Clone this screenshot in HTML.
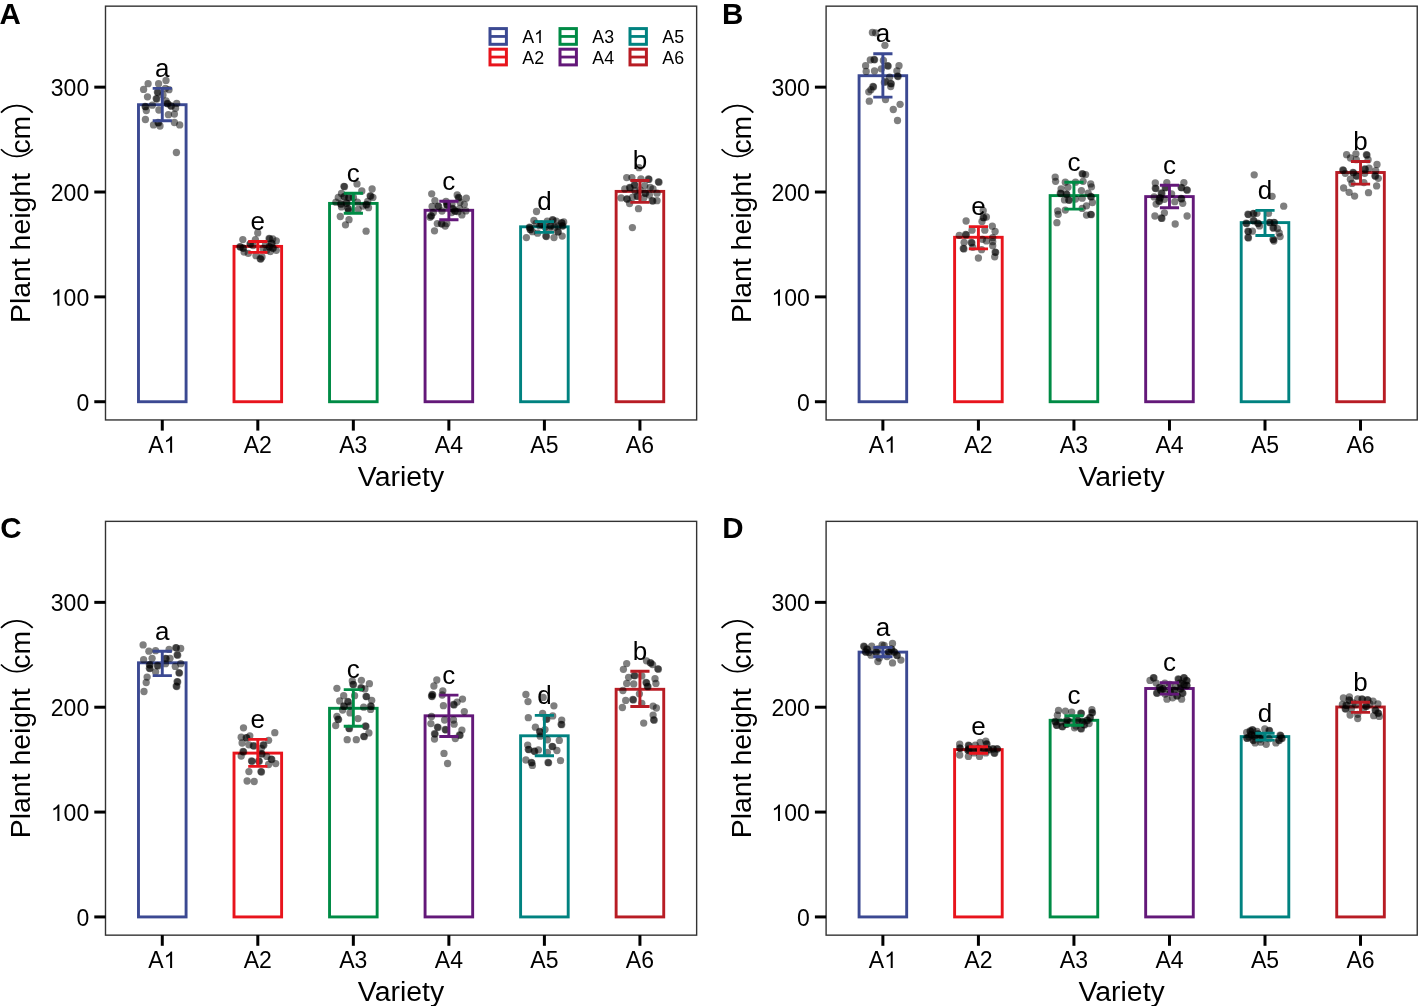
<!DOCTYPE html>
<html><head><meta charset="utf-8"><style>
html,body{margin:0;padding:0;background:#fff;width:1418px;height:1006px;overflow:hidden;}
svg{display:block;will-change:transform;filter:blur(0.35px);}
text{font-family:"Liberation Sans",sans-serif;fill:#000;}
.lab{font-size:29.5px;font-weight:bold;}
.tk{font-size:23px;}
.ti{font-size:28.4px;}
.sl{font-size:26px;}
.lg{font-size:17.8px;}
</style></head><body>
<svg width="1418" height="1006" viewBox="0 0 1418 1006">
<rect width="1418" height="1006" fill="#fff"/>
<g transform="translate(0,0)">
<text transform="translate(-0.5,23.9)" class="lab">A</text>
<rect x="105.5" y="6.16" width="591.14" height="413.79" fill="none" stroke="#333" stroke-width="1.4"/>
<line x1="94.3" x2="105.5" y1="401.73" y2="401.73" stroke="#000" stroke-width="3"/>
<text x="76.41" y="410.63" class="tk">0</text>
<line x1="94.3" x2="105.5" y1="296.87" y2="296.87" stroke="#000" stroke-width="3"/>
<text x="63.62" y="305.77" class="tk">00</text><path d="M59.39,305.77H57.37V292.89Q56.64,293.58 55.45,294.28Q54.26,294.98 53.32,295.33V293.37Q55.01,292.57 56.28,291.44Q57.55,290.31 58.08,289.24H59.39Z"/>
<line x1="94.3" x2="105.5" y1="192.01" y2="192.01" stroke="#000" stroke-width="3"/>
<text x="50.83" y="200.91" class="tk">200</text>
<line x1="94.3" x2="105.5" y1="87.15" y2="87.15" stroke="#000" stroke-width="3"/>
<text x="50.83" y="96.05" class="tk">300</text>
<line x1="162.28" x2="162.28" y1="419.95" y2="430.6" stroke="#000" stroke-width="3"/>
<text x="148.21" y="452.8" class="tk">A</text><path d="M172.12,452.8H170.1V439.92Q169.37,440.61 168.18,441.31Q166.99,442.01 166.05,442.36V440.4Q167.74,439.6 169.01,438.47Q170.28,437.34 170.81,436.27H172.12Z"/>
<line x1="257.81" x2="257.81" y1="419.95" y2="430.6" stroke="#000" stroke-width="3"/>
<text x="243.74" y="452.8" class="tk">A2</text>
<line x1="353.34" x2="353.34" y1="419.95" y2="430.6" stroke="#000" stroke-width="3"/>
<text x="339.27" y="452.8" class="tk">A3</text>
<line x1="448.87" x2="448.87" y1="419.95" y2="430.6" stroke="#000" stroke-width="3"/>
<text x="434.8" y="452.8" class="tk">A4</text>
<line x1="544.4" x2="544.4" y1="419.95" y2="430.6" stroke="#000" stroke-width="3"/>
<text x="530.33" y="452.8" class="tk">A5</text>
<line x1="639.93" x2="639.93" y1="419.95" y2="430.6" stroke="#000" stroke-width="3"/>
<text x="625.86" y="452.8" class="tk">A6</text>
<text x="401" y="485.7" class="ti" text-anchor="middle">Variety</text>
<text transform="translate(30,323) rotate(-90)" class="ti">Plant height</text>
<text transform="translate(30,153.6) rotate(-90)" class="ti">cm</text>
<path d="M1,149.3 A21.2,21.2 0 0 0 32.7,149.3" fill="none" stroke="#000" stroke-width="1.7"/>
<path d="M1,112.6 A21.6,21.6 0 0 1 32.7,112.6" fill="none" stroke="#000" stroke-width="1.7"/>
</g>
<rect x="138.48" y="104.7" width="47.6" height="297.03" fill="none" stroke="#3B4992" stroke-width="2.9"/>
<rect x="234.01" y="246.4" width="47.6" height="155.33" fill="none" stroke="#E8141C" stroke-width="2.9"/>
<rect x="329.54" y="203.4" width="47.6" height="198.33" fill="none" stroke="#008B45" stroke-width="2.9"/>
<rect x="425.07" y="210.3" width="47.6" height="191.43" fill="none" stroke="#631879" stroke-width="2.9"/>
<rect x="520.6" y="226.8" width="47.6" height="174.93" fill="none" stroke="#008280" stroke-width="2.9"/>
<rect x="616.13" y="191.4" width="47.6" height="210.33" fill="none" stroke="#B81C24" stroke-width="2.9"/>
<g fill="#000" fill-opacity="0.5">
<circle cx="166" cy="80.4" r="3.65"/>
<circle cx="148.1" cy="83.7" r="3.65"/>
<circle cx="158.6" cy="83.7" r="3.65"/>
<circle cx="143.6" cy="89.4" r="3.65"/>
<circle cx="169" cy="89.7" r="3.65"/>
<circle cx="157.4" cy="92.1" r="3.65"/>
<circle cx="158" cy="92.5" r="3.65"/>
<circle cx="165.4" cy="88.5" r="3.65"/>
<circle cx="147.5" cy="96.8" r="3.65"/>
<circle cx="156.2" cy="98.6" r="3.65"/>
<circle cx="156.8" cy="99" r="3.65"/>
<circle cx="163" cy="95" r="3.65"/>
<circle cx="166" cy="101" r="3.65"/>
<circle cx="167.2" cy="103.4" r="3.65"/>
<circle cx="167.8" cy="103.8" r="3.65"/>
<circle cx="170.8" cy="105.8" r="3.65"/>
<circle cx="171.4" cy="106.2" r="3.65"/>
<circle cx="176.7" cy="103.4" r="3.65"/>
<circle cx="175.5" cy="108.2" r="3.65"/>
<circle cx="145.1" cy="106.4" r="3.65"/>
<circle cx="145.7" cy="106.8" r="3.65"/>
<circle cx="146.3" cy="110.5" r="3.65"/>
<circle cx="152.3" cy="105.2" r="3.65"/>
<circle cx="158.9" cy="110" r="3.65"/>
<circle cx="168.4" cy="114.7" r="3.65"/>
<circle cx="174.4" cy="114.1" r="3.65"/>
<circle cx="145.4" cy="119.5" r="3.65"/>
<circle cx="153.5" cy="124.9" r="3.65"/>
<circle cx="158" cy="122.5" r="3.65"/>
<circle cx="158.6" cy="122.9" r="3.65"/>
<circle cx="160" cy="126" r="3.65"/>
<circle cx="174.4" cy="122.5" r="3.65"/>
<circle cx="179.7" cy="124.9" r="3.65"/>
<circle cx="176.4" cy="152.5" r="3.65"/>
<circle cx="257.7" cy="232.9" r="3.65"/>
<circle cx="242.8" cy="239.6" r="3.65"/>
<circle cx="255.4" cy="239.6" r="3.65"/>
<circle cx="269.1" cy="238.4" r="3.65"/>
<circle cx="269.7" cy="238.8" r="3.65"/>
<circle cx="272.7" cy="239" r="3.65"/>
<circle cx="276.3" cy="240.8" r="3.65"/>
<circle cx="271.5" cy="243.2" r="3.65"/>
<circle cx="272.1" cy="243.6" r="3.65"/>
<circle cx="269.1" cy="246.7" r="3.65"/>
<circle cx="269.7" cy="247.1" r="3.65"/>
<circle cx="272.7" cy="247.9" r="3.65"/>
<circle cx="273.3" cy="248.3" r="3.65"/>
<circle cx="276.3" cy="250.3" r="3.65"/>
<circle cx="270.3" cy="251.5" r="3.65"/>
<circle cx="266.7" cy="250.3" r="3.65"/>
<circle cx="239.9" cy="246.7" r="3.65"/>
<circle cx="240.5" cy="247.1" r="3.65"/>
<circle cx="242.9" cy="247.9" r="3.65"/>
<circle cx="243.5" cy="248.3" r="3.65"/>
<circle cx="244.1" cy="252.1" r="3.65"/>
<circle cx="248.3" cy="253.3" r="3.65"/>
<circle cx="250" cy="243.8" r="3.65"/>
<circle cx="250.6" cy="244.2" r="3.65"/>
<circle cx="253" cy="245.5" r="3.65"/>
<circle cx="256" cy="255.7" r="3.65"/>
<circle cx="260.2" cy="258.7" r="3.65"/>
<circle cx="260.8" cy="259.1" r="3.65"/>
<circle cx="262" cy="256.9" r="3.65"/>
<circle cx="263.2" cy="248.5" r="3.65"/>
<circle cx="265.5" cy="244.4" r="3.65"/>
<circle cx="343.9" cy="186.3" r="3.65"/>
<circle cx="344.5" cy="186.7" r="3.65"/>
<circle cx="357" cy="183.9" r="3.65"/>
<circle cx="361.8" cy="191" r="3.65"/>
<circle cx="372.1" cy="189" r="3.65"/>
<circle cx="370.1" cy="195.8" r="3.65"/>
<circle cx="370.7" cy="196.2" r="3.65"/>
<circle cx="372.9" cy="197.4" r="3.65"/>
<circle cx="341.5" cy="193.4" r="3.65"/>
<circle cx="338.3" cy="197.4" r="3.65"/>
<circle cx="343.9" cy="196.6" r="3.65"/>
<circle cx="344.5" cy="197" r="3.65"/>
<circle cx="348.6" cy="197.4" r="3.65"/>
<circle cx="349.2" cy="197.8" r="3.65"/>
<circle cx="353.4" cy="197.4" r="3.65"/>
<circle cx="335.9" cy="202.2" r="3.65"/>
<circle cx="340.7" cy="203.8" r="3.65"/>
<circle cx="341.3" cy="204.2" r="3.65"/>
<circle cx="346.3" cy="203" r="3.65"/>
<circle cx="346.9" cy="203.4" r="3.65"/>
<circle cx="341.5" cy="206.9" r="3.65"/>
<circle cx="347.8" cy="208.5" r="3.65"/>
<circle cx="348.4" cy="208.9" r="3.65"/>
<circle cx="348.6" cy="210.9" r="3.65"/>
<circle cx="357.4" cy="202.2" r="3.65"/>
<circle cx="358.2" cy="209.3" r="3.65"/>
<circle cx="363" cy="206.1" r="3.65"/>
<circle cx="366.1" cy="204.5" r="3.65"/>
<circle cx="366.7" cy="204.9" r="3.65"/>
<circle cx="368.5" cy="207.7" r="3.65"/>
<circle cx="367.7" cy="201.4" r="3.65"/>
<circle cx="340.3" cy="216.5" r="3.65"/>
<circle cx="349" cy="219.7" r="3.65"/>
<circle cx="345.5" cy="224.8" r="3.65"/>
<circle cx="366.1" cy="231.2" r="3.65"/>
<circle cx="431.7" cy="193.8" r="3.65"/>
<circle cx="434.9" cy="200.6" r="3.65"/>
<circle cx="438.1" cy="206.1" r="3.65"/>
<circle cx="438.7" cy="206.5" r="3.65"/>
<circle cx="432.1" cy="206.5" r="3.65"/>
<circle cx="430.9" cy="215.7" r="3.65"/>
<circle cx="431.5" cy="216.1" r="3.65"/>
<circle cx="433.3" cy="212.5" r="3.65"/>
<circle cx="430.1" cy="217.3" r="3.65"/>
<circle cx="437.3" cy="223.6" r="3.65"/>
<circle cx="441.3" cy="223.6" r="3.65"/>
<circle cx="441.9" cy="224" r="3.65"/>
<circle cx="445.2" cy="226" r="3.65"/>
<circle cx="446.8" cy="223.6" r="3.65"/>
<circle cx="434.5" cy="230.8" r="3.65"/>
<circle cx="446" cy="201.4" r="3.65"/>
<circle cx="446.8" cy="204.5" r="3.65"/>
<circle cx="457.2" cy="195" r="3.65"/>
<circle cx="458.4" cy="197.4" r="3.65"/>
<circle cx="459" cy="197.8" r="3.65"/>
<circle cx="466.3" cy="198.2" r="3.65"/>
<circle cx="464.3" cy="204.5" r="3.65"/>
<circle cx="452.4" cy="208.5" r="3.65"/>
<circle cx="453" cy="208.9" r="3.65"/>
<circle cx="454.8" cy="210.9" r="3.65"/>
<circle cx="455.4" cy="211.3" r="3.65"/>
<circle cx="459.6" cy="208.5" r="3.65"/>
<circle cx="461.9" cy="214.9" r="3.65"/>
<circle cx="465.9" cy="210.9" r="3.65"/>
<circle cx="451.6" cy="212.5" r="3.65"/>
<circle cx="458" cy="211.7" r="3.65"/>
<circle cx="447" cy="205" r="3.65"/>
<circle cx="447.6" cy="205.4" r="3.65"/>
<circle cx="442" cy="211" r="3.65"/>
<circle cx="452" cy="204" r="3.65"/>
<circle cx="460" cy="202" r="3.65"/>
<circle cx="536.5" cy="211.5" r="3.65"/>
<circle cx="533.9" cy="220.5" r="3.65"/>
<circle cx="526.4" cy="237.6" r="3.65"/>
<circle cx="530.1" cy="229.4" r="3.65"/>
<circle cx="530.7" cy="229.8" r="3.65"/>
<circle cx="532.4" cy="231.7" r="3.65"/>
<circle cx="537.6" cy="233.2" r="3.65"/>
<circle cx="545.8" cy="236.1" r="3.65"/>
<circle cx="546.4" cy="236.5" r="3.65"/>
<circle cx="554" cy="237.6" r="3.65"/>
<circle cx="562.2" cy="236.1" r="3.65"/>
<circle cx="557.7" cy="231.7" r="3.65"/>
<circle cx="558.3" cy="232.1" r="3.65"/>
<circle cx="552.5" cy="219.7" r="3.65"/>
<circle cx="553.1" cy="220.1" r="3.65"/>
<circle cx="561.5" cy="222.7" r="3.65"/>
<circle cx="562.1" cy="223.1" r="3.65"/>
<circle cx="562.2" cy="225.7" r="3.65"/>
<circle cx="562.8" cy="226.1" r="3.65"/>
<circle cx="563.7" cy="222" r="3.65"/>
<circle cx="550.3" cy="225.7" r="3.65"/>
<circle cx="550.9" cy="226.1" r="3.65"/>
<circle cx="554.7" cy="227.2" r="3.65"/>
<circle cx="539.8" cy="225.7" r="3.65"/>
<circle cx="536.1" cy="223.5" r="3.65"/>
<circle cx="529.4" cy="227.2" r="3.65"/>
<circle cx="530" cy="227.6" r="3.65"/>
<circle cx="556.2" cy="221.2" r="3.65"/>
<circle cx="547.3" cy="221.2" r="3.65"/>
<circle cx="541" cy="224" r="3.65"/>
<circle cx="541.6" cy="224.4" r="3.65"/>
<circle cx="545" cy="227" r="3.65"/>
<circle cx="549" cy="230" r="3.65"/>
<circle cx="558" cy="226" r="3.65"/>
<circle cx="639" cy="167.7" r="3.65"/>
<circle cx="626.7" cy="177.6" r="3.65"/>
<circle cx="631.9" cy="177.6" r="3.65"/>
<circle cx="640.9" cy="179" r="3.65"/>
<circle cx="648.4" cy="179" r="3.65"/>
<circle cx="649" cy="179.4" r="3.65"/>
<circle cx="658.4" cy="181.8" r="3.65"/>
<circle cx="659" cy="182.2" r="3.65"/>
<circle cx="624.8" cy="188.9" r="3.65"/>
<circle cx="629.6" cy="187.5" r="3.65"/>
<circle cx="630.2" cy="187.9" r="3.65"/>
<circle cx="634.3" cy="184.7" r="3.65"/>
<circle cx="634.9" cy="185.1" r="3.65"/>
<circle cx="644.7" cy="185.6" r="3.65"/>
<circle cx="650.3" cy="187.5" r="3.65"/>
<circle cx="621.1" cy="197.9" r="3.65"/>
<circle cx="626.7" cy="198.8" r="3.65"/>
<circle cx="627.3" cy="199.2" r="3.65"/>
<circle cx="632.4" cy="197.4" r="3.65"/>
<circle cx="637.1" cy="196" r="3.65"/>
<circle cx="637.7" cy="196.4" r="3.65"/>
<circle cx="629.6" cy="203.5" r="3.65"/>
<circle cx="638.5" cy="208.7" r="3.65"/>
<circle cx="649.4" cy="195" r="3.65"/>
<circle cx="652.2" cy="200.7" r="3.65"/>
<circle cx="652.8" cy="201.1" r="3.65"/>
<circle cx="657" cy="200.7" r="3.65"/>
<circle cx="657" cy="193.2" r="3.65"/>
<circle cx="643.7" cy="197.9" r="3.65"/>
<circle cx="632.4" cy="227.6" r="3.65"/>
<circle cx="640" cy="190" r="3.65"/>
<circle cx="645" cy="193" r="3.65"/>
<circle cx="645.6" cy="193.4" r="3.65"/>
<circle cx="635" cy="191" r="3.65"/>
<circle cx="653" cy="189" r="3.65"/>
</g>
<path d="M152.68,88.4H171.88M162.28,88.4V120.7M152.68,120.7H171.88" fill="none" stroke="#3B4992" stroke-width="2.9"/>
<text x="162.28" y="77" class="sl" text-anchor="middle">a</text>
<path d="M248.21,241.5H267.41M257.81,241.5V252.4M248.21,252.4H267.41" fill="none" stroke="#E8141C" stroke-width="2.9"/>
<text x="257.81" y="230.1" class="sl" text-anchor="middle">e</text>
<path d="M343.74,193.3H362.94M353.34,193.3V213.3M343.74,213.3H362.94" fill="none" stroke="#008B45" stroke-width="2.9"/>
<text x="353.34" y="181.9" class="sl" text-anchor="middle">c</text>
<path d="M439.27,201.2H458.47M448.87,201.2V219.8M439.27,219.8H458.47" fill="none" stroke="#631879" stroke-width="2.9"/>
<text x="448.87" y="189.8" class="sl" text-anchor="middle">c</text>
<path d="M534.8,221.6H554M544.4,221.6V232.4M534.8,232.4H554" fill="none" stroke="#008280" stroke-width="2.9"/>
<text x="544.4" y="210.2" class="sl" text-anchor="middle">d</text>
<path d="M630.33,180.5H649.53M639.93,180.5V202.4M630.33,202.4H649.53" fill="none" stroke="#B81C24" stroke-width="2.9"/>
<text x="639.93" y="169.1" class="sl" text-anchor="middle">b</text>
<g transform="translate(720.6,0)">
<text transform="translate(1.4,23.9)" class="lab">B</text>
<rect x="105.5" y="6.16" width="591.14" height="413.79" fill="none" stroke="#333" stroke-width="1.4"/>
<line x1="94.3" x2="105.5" y1="401.73" y2="401.73" stroke="#000" stroke-width="3"/>
<text x="76.41" y="410.63" class="tk">0</text>
<line x1="94.3" x2="105.5" y1="296.87" y2="296.87" stroke="#000" stroke-width="3"/>
<text x="63.62" y="305.77" class="tk">00</text><path d="M59.39,305.77H57.37V292.89Q56.64,293.58 55.45,294.28Q54.26,294.98 53.32,295.33V293.37Q55.01,292.57 56.28,291.44Q57.55,290.31 58.08,289.24H59.39Z"/>
<line x1="94.3" x2="105.5" y1="192.01" y2="192.01" stroke="#000" stroke-width="3"/>
<text x="50.83" y="200.91" class="tk">200</text>
<line x1="94.3" x2="105.5" y1="87.15" y2="87.15" stroke="#000" stroke-width="3"/>
<text x="50.83" y="96.05" class="tk">300</text>
<line x1="162.28" x2="162.28" y1="419.95" y2="430.6" stroke="#000" stroke-width="3"/>
<text x="148.21" y="452.8" class="tk">A</text><path d="M172.12,452.8H170.1V439.92Q169.37,440.61 168.18,441.31Q166.99,442.01 166.05,442.36V440.4Q167.74,439.6 169.01,438.47Q170.28,437.34 170.81,436.27H172.12Z"/>
<line x1="257.81" x2="257.81" y1="419.95" y2="430.6" stroke="#000" stroke-width="3"/>
<text x="243.74" y="452.8" class="tk">A2</text>
<line x1="353.34" x2="353.34" y1="419.95" y2="430.6" stroke="#000" stroke-width="3"/>
<text x="339.27" y="452.8" class="tk">A3</text>
<line x1="448.87" x2="448.87" y1="419.95" y2="430.6" stroke="#000" stroke-width="3"/>
<text x="434.8" y="452.8" class="tk">A4</text>
<line x1="544.4" x2="544.4" y1="419.95" y2="430.6" stroke="#000" stroke-width="3"/>
<text x="530.33" y="452.8" class="tk">A5</text>
<line x1="639.93" x2="639.93" y1="419.95" y2="430.6" stroke="#000" stroke-width="3"/>
<text x="625.86" y="452.8" class="tk">A6</text>
<text x="401" y="485.7" class="ti" text-anchor="middle">Variety</text>
<text transform="translate(30,323) rotate(-90)" class="ti">Plant height</text>
<text transform="translate(30,153.6) rotate(-90)" class="ti">cm</text>
<path d="M1,149.3 A21.2,21.2 0 0 0 32.7,149.3" fill="none" stroke="#000" stroke-width="1.7"/>
<path d="M1,112.6 A21.6,21.6 0 0 1 32.7,112.6" fill="none" stroke="#000" stroke-width="1.7"/>
</g>
<rect x="859.08" y="75.7" width="47.6" height="326.03" fill="none" stroke="#3B4992" stroke-width="2.9"/>
<rect x="954.61" y="237.3" width="47.6" height="164.43" fill="none" stroke="#E8141C" stroke-width="2.9"/>
<rect x="1050.14" y="195.6" width="47.6" height="206.13" fill="none" stroke="#008B45" stroke-width="2.9"/>
<rect x="1145.67" y="196.6" width="47.6" height="205.13" fill="none" stroke="#631879" stroke-width="2.9"/>
<rect x="1241.2" y="222.6" width="47.6" height="179.13" fill="none" stroke="#008280" stroke-width="2.9"/>
<rect x="1336.73" y="172.5" width="47.6" height="229.23" fill="none" stroke="#B81C24" stroke-width="2.9"/>
<g fill="#000" fill-opacity="0.5">
<circle cx="872.4" cy="32.5" r="3.65"/>
<circle cx="875.6" cy="32.8" r="3.65"/>
<circle cx="884.9" cy="45.3" r="3.65"/>
<circle cx="870.3" cy="59.9" r="3.65"/>
<circle cx="874" cy="59.4" r="3.65"/>
<circle cx="874.6" cy="59.8" r="3.65"/>
<circle cx="865.6" cy="65.7" r="3.65"/>
<circle cx="866.2" cy="71.4" r="3.65"/>
<circle cx="874.5" cy="70.9" r="3.65"/>
<circle cx="881.3" cy="68.8" r="3.65"/>
<circle cx="883.4" cy="60.5" r="3.65"/>
<circle cx="887.6" cy="65.7" r="3.65"/>
<circle cx="888.2" cy="66.1" r="3.65"/>
<circle cx="899" cy="65.7" r="3.65"/>
<circle cx="896.9" cy="70.9" r="3.65"/>
<circle cx="897.5" cy="76.1" r="3.65"/>
<circle cx="898.1" cy="76.5" r="3.65"/>
<circle cx="889.6" cy="77.2" r="3.65"/>
<circle cx="890.7" cy="83.4" r="3.65"/>
<circle cx="891.3" cy="83.8" r="3.65"/>
<circle cx="884.4" cy="82.4" r="3.65"/>
<circle cx="890.7" cy="86.5" r="3.65"/>
<circle cx="872.9" cy="86.5" r="3.65"/>
<circle cx="873.5" cy="86.9" r="3.65"/>
<circle cx="868.8" cy="91.8" r="3.65"/>
<circle cx="870.9" cy="89.7" r="3.65"/>
<circle cx="869.3" cy="101.2" r="3.65"/>
<circle cx="885.5" cy="99.6" r="3.65"/>
<circle cx="900.1" cy="104.3" r="3.65"/>
<circle cx="893.3" cy="109.5" r="3.65"/>
<circle cx="897.5" cy="120.5" r="3.65"/>
<circle cx="885.5" cy="81.3" r="3.65"/>
<circle cx="983.2" cy="210.7" r="3.65"/>
<circle cx="986.4" cy="217" r="3.65"/>
<circle cx="983.2" cy="217.4" r="3.65"/>
<circle cx="983.8" cy="217.8" r="3.65"/>
<circle cx="982" cy="221.4" r="3.65"/>
<circle cx="966.1" cy="221" r="3.65"/>
<circle cx="992.3" cy="226.2" r="3.65"/>
<circle cx="995.1" cy="231.4" r="3.65"/>
<circle cx="984.8" cy="230.2" r="3.65"/>
<circle cx="972" cy="230.2" r="3.65"/>
<circle cx="959.3" cy="235.3" r="3.65"/>
<circle cx="965.7" cy="234.5" r="3.65"/>
<circle cx="966.3" cy="234.9" r="3.65"/>
<circle cx="964.1" cy="242.5" r="3.65"/>
<circle cx="971.3" cy="242.5" r="3.65"/>
<circle cx="971.9" cy="242.9" r="3.65"/>
<circle cx="963.3" cy="248.5" r="3.65"/>
<circle cx="963.9" cy="248.9" r="3.65"/>
<circle cx="982.4" cy="239.3" r="3.65"/>
<circle cx="986.4" cy="240.9" r="3.65"/>
<circle cx="992.7" cy="241.7" r="3.65"/>
<circle cx="992.7" cy="237.7" r="3.65"/>
<circle cx="972.8" cy="247.3" r="3.65"/>
<circle cx="981.6" cy="249.7" r="3.65"/>
<circle cx="995.1" cy="252.1" r="3.65"/>
<circle cx="995.7" cy="252.5" r="3.65"/>
<circle cx="994.7" cy="256.8" r="3.65"/>
<circle cx="978.4" cy="258" r="3.65"/>
<circle cx="992.7" cy="245.7" r="3.65"/>
<circle cx="1055.2" cy="177.1" r="3.65"/>
<circle cx="1055.6" cy="181.3" r="3.65"/>
<circle cx="1082.2" cy="173.7" r="3.65"/>
<circle cx="1082.8" cy="174.1" r="3.65"/>
<circle cx="1085.6" cy="174.6" r="3.65"/>
<circle cx="1065.3" cy="182.2" r="3.65"/>
<circle cx="1075.5" cy="182.2" r="3.65"/>
<circle cx="1083.1" cy="181.3" r="3.65"/>
<circle cx="1090.7" cy="183.9" r="3.65"/>
<circle cx="1091.5" cy="186.8" r="3.65"/>
<circle cx="1061.1" cy="188.9" r="3.65"/>
<circle cx="1067.9" cy="187.2" r="3.65"/>
<circle cx="1060.3" cy="193.2" r="3.65"/>
<circle cx="1060.9" cy="193.6" r="3.65"/>
<circle cx="1066.2" cy="194" r="3.65"/>
<circle cx="1066.8" cy="194.4" r="3.65"/>
<circle cx="1081.4" cy="190.6" r="3.65"/>
<circle cx="1088.2" cy="193.2" r="3.65"/>
<circle cx="1090.7" cy="196.5" r="3.65"/>
<circle cx="1091.3" cy="196.9" r="3.65"/>
<circle cx="1064.5" cy="199.9" r="3.65"/>
<circle cx="1068.7" cy="199.9" r="3.65"/>
<circle cx="1069.3" cy="200.3" r="3.65"/>
<circle cx="1075.5" cy="199.1" r="3.65"/>
<circle cx="1082.2" cy="198.2" r="3.65"/>
<circle cx="1092.4" cy="202.5" r="3.65"/>
<circle cx="1086.5" cy="205.8" r="3.65"/>
<circle cx="1082.2" cy="208.4" r="3.65"/>
<circle cx="1065.3" cy="210.1" r="3.65"/>
<circle cx="1057.7" cy="210.9" r="3.65"/>
<circle cx="1058.2" cy="214.3" r="3.65"/>
<circle cx="1086.5" cy="215.1" r="3.65"/>
<circle cx="1090.7" cy="214.3" r="3.65"/>
<circle cx="1091.3" cy="214.7" r="3.65"/>
<circle cx="1056.9" cy="222.7" r="3.65"/>
<circle cx="1155.3" cy="183" r="3.65"/>
<circle cx="1166.8" cy="182.6" r="3.65"/>
<circle cx="1183.9" cy="182.6" r="3.65"/>
<circle cx="1155.3" cy="188.2" r="3.65"/>
<circle cx="1155.9" cy="188.6" r="3.65"/>
<circle cx="1165.2" cy="187.4" r="3.65"/>
<circle cx="1165.8" cy="187.8" r="3.65"/>
<circle cx="1181.1" cy="187.4" r="3.65"/>
<circle cx="1181.7" cy="187.8" r="3.65"/>
<circle cx="1186.7" cy="189.8" r="3.65"/>
<circle cx="1187.3" cy="190.2" r="3.65"/>
<circle cx="1161.3" cy="193" r="3.65"/>
<circle cx="1161.9" cy="193.4" r="3.65"/>
<circle cx="1171.6" cy="193.8" r="3.65"/>
<circle cx="1154.1" cy="196.9" r="3.65"/>
<circle cx="1159.7" cy="197.7" r="3.65"/>
<circle cx="1160.3" cy="198.1" r="3.65"/>
<circle cx="1164.4" cy="199.3" r="3.65"/>
<circle cx="1174.8" cy="201.7" r="3.65"/>
<circle cx="1181.1" cy="198.5" r="3.65"/>
<circle cx="1181.7" cy="198.9" r="3.65"/>
<circle cx="1182.7" cy="203.3" r="3.65"/>
<circle cx="1156.1" cy="204.1" r="3.65"/>
<circle cx="1158.9" cy="200.9" r="3.65"/>
<circle cx="1159.5" cy="201.3" r="3.65"/>
<circle cx="1164.4" cy="212.8" r="3.65"/>
<circle cx="1154.9" cy="216" r="3.65"/>
<circle cx="1161.3" cy="218" r="3.65"/>
<circle cx="1161.9" cy="218.4" r="3.65"/>
<circle cx="1187.1" cy="216" r="3.65"/>
<circle cx="1175.2" cy="224" r="3.65"/>
<circle cx="1254.2" cy="174.8" r="3.65"/>
<circle cx="1272.1" cy="196.3" r="3.65"/>
<circle cx="1283.7" cy="206.2" r="3.65"/>
<circle cx="1247.9" cy="214.2" r="3.65"/>
<circle cx="1248.5" cy="214.6" r="3.65"/>
<circle cx="1253.3" cy="213.3" r="3.65"/>
<circle cx="1253.9" cy="213.7" r="3.65"/>
<circle cx="1256.9" cy="213.3" r="3.65"/>
<circle cx="1268.5" cy="213.3" r="3.65"/>
<circle cx="1246.1" cy="223.2" r="3.65"/>
<circle cx="1246.7" cy="223.6" r="3.65"/>
<circle cx="1253.3" cy="220.5" r="3.65"/>
<circle cx="1253.9" cy="220.9" r="3.65"/>
<circle cx="1257.8" cy="223.2" r="3.65"/>
<circle cx="1258.4" cy="223.6" r="3.65"/>
<circle cx="1259.5" cy="225.9" r="3.65"/>
<circle cx="1269.4" cy="222.3" r="3.65"/>
<circle cx="1270" cy="222.7" r="3.65"/>
<circle cx="1273.9" cy="222.3" r="3.65"/>
<circle cx="1274.5" cy="222.7" r="3.65"/>
<circle cx="1273" cy="227.7" r="3.65"/>
<circle cx="1273.6" cy="228.1" r="3.65"/>
<circle cx="1277.4" cy="228.6" r="3.65"/>
<circle cx="1247.9" cy="231.2" r="3.65"/>
<circle cx="1248.5" cy="231.6" r="3.65"/>
<circle cx="1252.4" cy="231.2" r="3.65"/>
<circle cx="1247.9" cy="237.5" r="3.65"/>
<circle cx="1248.5" cy="237.9" r="3.65"/>
<circle cx="1279.2" cy="233" r="3.65"/>
<circle cx="1280.1" cy="236.6" r="3.65"/>
<circle cx="1273" cy="239.3" r="3.65"/>
<circle cx="1273.6" cy="239.7" r="3.65"/>
<circle cx="1273.9" cy="241.1" r="3.65"/>
<circle cx="1346.6" cy="154.7" r="3.65"/>
<circle cx="1355.9" cy="153.8" r="3.65"/>
<circle cx="1366.4" cy="154.7" r="3.65"/>
<circle cx="1367" cy="155.1" r="3.65"/>
<circle cx="1350.4" cy="158" r="3.65"/>
<circle cx="1368.1" cy="159.7" r="3.65"/>
<circle cx="1356.3" cy="159.7" r="3.65"/>
<circle cx="1377" cy="164.4" r="3.65"/>
<circle cx="1342.8" cy="169.9" r="3.65"/>
<circle cx="1343.4" cy="170.3" r="3.65"/>
<circle cx="1345.3" cy="173.3" r="3.65"/>
<circle cx="1352.9" cy="172.4" r="3.65"/>
<circle cx="1353.5" cy="172.8" r="3.65"/>
<circle cx="1356.3" cy="175.8" r="3.65"/>
<circle cx="1356.9" cy="176.2" r="3.65"/>
<circle cx="1364.7" cy="169" r="3.65"/>
<circle cx="1365.3" cy="169.4" r="3.65"/>
<circle cx="1369" cy="168.2" r="3.65"/>
<circle cx="1375.7" cy="170.7" r="3.65"/>
<circle cx="1374.9" cy="175.8" r="3.65"/>
<circle cx="1375.5" cy="176.2" r="3.65"/>
<circle cx="1378.3" cy="178.3" r="3.65"/>
<circle cx="1350.4" cy="179.2" r="3.65"/>
<circle cx="1352" cy="183.4" r="3.65"/>
<circle cx="1363.9" cy="182.6" r="3.65"/>
<circle cx="1376.6" cy="185.9" r="3.65"/>
<circle cx="1343.6" cy="188" r="3.65"/>
<circle cx="1349.1" cy="192.3" r="3.65"/>
<circle cx="1354.6" cy="196.1" r="3.65"/>
<circle cx="1368.5" cy="192.7" r="3.65"/>
<circle cx="1364.7" cy="173.3" r="3.65"/>
</g>
<path d="M873.28,53.7H892.48M882.88,53.7V97.1M873.28,97.1H892.48" fill="none" stroke="#3B4992" stroke-width="2.9"/>
<text x="882.88" y="42.3" class="sl" text-anchor="middle">a</text>
<path d="M968.81,226.6H988.01M978.41,226.6V248.9M968.81,248.9H988.01" fill="none" stroke="#E8141C" stroke-width="2.9"/>
<text x="978.41" y="215.2" class="sl" text-anchor="middle">e</text>
<path d="M1064.34,182.2H1083.54M1073.94,182.2V209.1M1064.34,209.1H1083.54" fill="none" stroke="#008B45" stroke-width="2.9"/>
<text x="1073.94" y="170.8" class="sl" text-anchor="middle">c</text>
<path d="M1159.87,185.3H1179.07M1169.47,185.3V207.7M1159.87,207.7H1179.07" fill="none" stroke="#631879" stroke-width="2.9"/>
<text x="1169.47" y="173.9" class="sl" text-anchor="middle">c</text>
<path d="M1255.4,210.4H1274.6M1265,210.4V235.5M1255.4,235.5H1274.6" fill="none" stroke="#008280" stroke-width="2.9"/>
<text x="1265" y="199" class="sl" text-anchor="middle">d</text>
<path d="M1350.93,161.5H1370.13M1360.53,161.5V184.1M1350.93,184.1H1370.13" fill="none" stroke="#B81C24" stroke-width="2.9"/>
<text x="1360.53" y="150.1" class="sl" text-anchor="middle">b</text>
<g transform="translate(0,515.2)">
<text transform="translate(0.24,22.8)" class="lab">C</text>
<rect x="105.5" y="6.16" width="591.14" height="413.79" fill="none" stroke="#333" stroke-width="1.4"/>
<line x1="94.3" x2="105.5" y1="401.73" y2="401.73" stroke="#000" stroke-width="3"/>
<text x="76.41" y="410.63" class="tk">0</text>
<line x1="94.3" x2="105.5" y1="296.87" y2="296.87" stroke="#000" stroke-width="3"/>
<text x="63.62" y="305.77" class="tk">00</text><path d="M59.39,305.77H57.37V292.89Q56.64,293.58 55.45,294.28Q54.26,294.98 53.32,295.33V293.37Q55.01,292.57 56.28,291.44Q57.55,290.31 58.08,289.24H59.39Z"/>
<line x1="94.3" x2="105.5" y1="192.01" y2="192.01" stroke="#000" stroke-width="3"/>
<text x="50.83" y="200.91" class="tk">200</text>
<line x1="94.3" x2="105.5" y1="87.15" y2="87.15" stroke="#000" stroke-width="3"/>
<text x="50.83" y="96.05" class="tk">300</text>
<line x1="162.28" x2="162.28" y1="419.95" y2="430.6" stroke="#000" stroke-width="3"/>
<text x="148.21" y="452.8" class="tk">A</text><path d="M172.12,452.8H170.1V439.92Q169.37,440.61 168.18,441.31Q166.99,442.01 166.05,442.36V440.4Q167.74,439.6 169.01,438.47Q170.28,437.34 170.81,436.27H172.12Z"/>
<line x1="257.81" x2="257.81" y1="419.95" y2="430.6" stroke="#000" stroke-width="3"/>
<text x="243.74" y="452.8" class="tk">A2</text>
<line x1="353.34" x2="353.34" y1="419.95" y2="430.6" stroke="#000" stroke-width="3"/>
<text x="339.27" y="452.8" class="tk">A3</text>
<line x1="448.87" x2="448.87" y1="419.95" y2="430.6" stroke="#000" stroke-width="3"/>
<text x="434.8" y="452.8" class="tk">A4</text>
<line x1="544.4" x2="544.4" y1="419.95" y2="430.6" stroke="#000" stroke-width="3"/>
<text x="530.33" y="452.8" class="tk">A5</text>
<line x1="639.93" x2="639.93" y1="419.95" y2="430.6" stroke="#000" stroke-width="3"/>
<text x="625.86" y="452.8" class="tk">A6</text>
<text x="401" y="485.7" class="ti" text-anchor="middle">Variety</text>
<text transform="translate(30,323) rotate(-90)" class="ti">Plant height</text>
<text transform="translate(30,153.6) rotate(-90)" class="ti">cm</text>
<path d="M1,149.3 A21.2,21.2 0 0 0 32.7,149.3" fill="none" stroke="#000" stroke-width="1.7"/>
<path d="M1,112.6 A21.6,21.6 0 0 1 32.7,112.6" fill="none" stroke="#000" stroke-width="1.7"/>
</g>
<rect x="138.48" y="662.8" width="47.6" height="254.13" fill="none" stroke="#3B4992" stroke-width="2.9"/>
<rect x="234.01" y="753.1" width="47.6" height="163.83" fill="none" stroke="#E8141C" stroke-width="2.9"/>
<rect x="329.54" y="708.3" width="47.6" height="208.63" fill="none" stroke="#008B45" stroke-width="2.9"/>
<rect x="425.07" y="715.8" width="47.6" height="201.13" fill="none" stroke="#631879" stroke-width="2.9"/>
<rect x="520.6" y="735.8" width="47.6" height="181.13" fill="none" stroke="#008280" stroke-width="2.9"/>
<rect x="616.13" y="689.3" width="47.6" height="227.63" fill="none" stroke="#B81C24" stroke-width="2.9"/>
<g fill="#000" fill-opacity="0.5">
<circle cx="143.1" cy="644.9" r="3.65"/>
<circle cx="148.9" cy="651.2" r="3.65"/>
<circle cx="155.6" cy="650.7" r="3.65"/>
<circle cx="169.1" cy="649.4" r="3.65"/>
<circle cx="175.8" cy="647.6" r="3.65"/>
<circle cx="176.4" cy="648" r="3.65"/>
<circle cx="180.7" cy="648.5" r="3.65"/>
<circle cx="177.1" cy="654.8" r="3.65"/>
<circle cx="177.7" cy="655.2" r="3.65"/>
<circle cx="152.1" cy="658.3" r="3.65"/>
<circle cx="143.6" cy="659.7" r="3.65"/>
<circle cx="165.5" cy="658.3" r="3.65"/>
<circle cx="166.1" cy="658.7" r="3.65"/>
<circle cx="170" cy="658.3" r="3.65"/>
<circle cx="149.4" cy="664.6" r="3.65"/>
<circle cx="150" cy="665" r="3.65"/>
<circle cx="157.4" cy="665.5" r="3.65"/>
<circle cx="158" cy="665.9" r="3.65"/>
<circle cx="165.5" cy="663.7" r="3.65"/>
<circle cx="180.7" cy="663.7" r="3.65"/>
<circle cx="175.3" cy="666.4" r="3.65"/>
<circle cx="149.4" cy="668.2" r="3.65"/>
<circle cx="150" cy="668.6" r="3.65"/>
<circle cx="155.6" cy="671.8" r="3.65"/>
<circle cx="178.9" cy="672.7" r="3.65"/>
<circle cx="179.5" cy="673.1" r="3.65"/>
<circle cx="147.1" cy="677.1" r="3.65"/>
<circle cx="146.2" cy="682.5" r="3.65"/>
<circle cx="177.1" cy="681.6" r="3.65"/>
<circle cx="177.7" cy="682" r="3.65"/>
<circle cx="176.2" cy="686.1" r="3.65"/>
<circle cx="176.8" cy="686.5" r="3.65"/>
<circle cx="144" cy="691.5" r="3.65"/>
<circle cx="243.5" cy="727.8" r="3.65"/>
<circle cx="274.8" cy="732.7" r="3.65"/>
<circle cx="241.2" cy="737.2" r="3.65"/>
<circle cx="246.2" cy="737.6" r="3.65"/>
<circle cx="246.8" cy="738" r="3.65"/>
<circle cx="249.8" cy="735.8" r="3.65"/>
<circle cx="242.1" cy="743" r="3.65"/>
<circle cx="248.9" cy="744.8" r="3.65"/>
<circle cx="253.3" cy="745.7" r="3.65"/>
<circle cx="253.9" cy="746.1" r="3.65"/>
<circle cx="263.2" cy="744.8" r="3.65"/>
<circle cx="263.8" cy="745.2" r="3.65"/>
<circle cx="268.6" cy="740.3" r="3.65"/>
<circle cx="261.4" cy="748.3" r="3.65"/>
<circle cx="243" cy="751.5" r="3.65"/>
<circle cx="243.6" cy="751.9" r="3.65"/>
<circle cx="241.2" cy="756" r="3.65"/>
<circle cx="261.4" cy="753.7" r="3.65"/>
<circle cx="262" cy="754.1" r="3.65"/>
<circle cx="266.8" cy="756.4" r="3.65"/>
<circle cx="271.2" cy="759.1" r="3.65"/>
<circle cx="271.8" cy="759.5" r="3.65"/>
<circle cx="275.7" cy="763.6" r="3.65"/>
<circle cx="268.6" cy="764.5" r="3.65"/>
<circle cx="251.5" cy="760.9" r="3.65"/>
<circle cx="252.1" cy="761.3" r="3.65"/>
<circle cx="258.7" cy="760.9" r="3.65"/>
<circle cx="259.3" cy="761.3" r="3.65"/>
<circle cx="248.9" cy="771.6" r="3.65"/>
<circle cx="260.9" cy="771.6" r="3.65"/>
<circle cx="261.5" cy="772" r="3.65"/>
<circle cx="247.1" cy="781" r="3.65"/>
<circle cx="254.2" cy="781.5" r="3.65"/>
<circle cx="336.9" cy="688.3" r="3.65"/>
<circle cx="352.3" cy="680.9" r="3.65"/>
<circle cx="352.9" cy="684.3" r="3.65"/>
<circle cx="353.5" cy="684.7" r="3.65"/>
<circle cx="361.4" cy="680.3" r="3.65"/>
<circle cx="369.4" cy="683.7" r="3.65"/>
<circle cx="360.9" cy="687.7" r="3.65"/>
<circle cx="361.5" cy="688.1" r="3.65"/>
<circle cx="364.9" cy="688.9" r="3.65"/>
<circle cx="343.7" cy="695.7" r="3.65"/>
<circle cx="354.6" cy="695.7" r="3.65"/>
<circle cx="339.7" cy="700.9" r="3.65"/>
<circle cx="347.7" cy="701.4" r="3.65"/>
<circle cx="348.3" cy="701.8" r="3.65"/>
<circle cx="366" cy="696.3" r="3.65"/>
<circle cx="366.6" cy="696.7" r="3.65"/>
<circle cx="371.7" cy="700.3" r="3.65"/>
<circle cx="343.7" cy="706" r="3.65"/>
<circle cx="344.3" cy="706.4" r="3.65"/>
<circle cx="350" cy="706" r="3.65"/>
<circle cx="363.7" cy="707.2" r="3.65"/>
<circle cx="370.6" cy="706" r="3.65"/>
<circle cx="371.2" cy="706.4" r="3.65"/>
<circle cx="370.6" cy="709.4" r="3.65"/>
<circle cx="342.6" cy="710" r="3.65"/>
<circle cx="350" cy="712.9" r="3.65"/>
<circle cx="336.9" cy="716.3" r="3.65"/>
<circle cx="338" cy="719.2" r="3.65"/>
<circle cx="338.6" cy="719.6" r="3.65"/>
<circle cx="358" cy="718.6" r="3.65"/>
<circle cx="335.7" cy="725.5" r="3.65"/>
<circle cx="348.9" cy="728.3" r="3.65"/>
<circle cx="349.5" cy="728.7" r="3.65"/>
<circle cx="365.4" cy="726" r="3.65"/>
<circle cx="366" cy="726.4" r="3.65"/>
<circle cx="368.9" cy="732.9" r="3.65"/>
<circle cx="363.7" cy="736.3" r="3.65"/>
<circle cx="364.3" cy="736.7" r="3.65"/>
<circle cx="347.2" cy="739.7" r="3.65"/>
<circle cx="356.3" cy="739.7" r="3.65"/>
<circle cx="436.8" cy="680" r="3.65"/>
<circle cx="433.9" cy="686" r="3.65"/>
<circle cx="432.1" cy="694.4" r="3.65"/>
<circle cx="432.7" cy="694.8" r="3.65"/>
<circle cx="431.5" cy="696.1" r="3.65"/>
<circle cx="432.1" cy="696.5" r="3.65"/>
<circle cx="442.8" cy="690.8" r="3.65"/>
<circle cx="442.2" cy="695" r="3.65"/>
<circle cx="462.5" cy="699.1" r="3.65"/>
<circle cx="457.1" cy="702.1" r="3.65"/>
<circle cx="453.5" cy="704.5" r="3.65"/>
<circle cx="454.1" cy="704.9" r="3.65"/>
<circle cx="443.4" cy="705.7" r="3.65"/>
<circle cx="464.3" cy="711.6" r="3.65"/>
<circle cx="431.5" cy="716.4" r="3.65"/>
<circle cx="444.6" cy="720" r="3.65"/>
<circle cx="453.5" cy="720" r="3.65"/>
<circle cx="430.9" cy="723.6" r="3.65"/>
<circle cx="454.1" cy="724.2" r="3.65"/>
<circle cx="437.4" cy="727.1" r="3.65"/>
<circle cx="438" cy="727.5" r="3.65"/>
<circle cx="445.2" cy="729.5" r="3.65"/>
<circle cx="445.8" cy="729.9" r="3.65"/>
<circle cx="461.9" cy="730.1" r="3.65"/>
<circle cx="434.5" cy="733.7" r="3.65"/>
<circle cx="435.1" cy="734.1" r="3.65"/>
<circle cx="459.5" cy="734.9" r="3.65"/>
<circle cx="460.1" cy="735.3" r="3.65"/>
<circle cx="434.5" cy="739.1" r="3.65"/>
<circle cx="455.3" cy="738.5" r="3.65"/>
<circle cx="444" cy="753.4" r="3.65"/>
<circle cx="447.6" cy="763.5" r="3.65"/>
<circle cx="525.9" cy="694.4" r="3.65"/>
<circle cx="528" cy="701.6" r="3.65"/>
<circle cx="543.2" cy="697.4" r="3.65"/>
<circle cx="553.9" cy="705.8" r="3.65"/>
<circle cx="528.3" cy="717.7" r="3.65"/>
<circle cx="542.6" cy="713.5" r="3.65"/>
<circle cx="546.2" cy="718.9" r="3.65"/>
<circle cx="546.8" cy="719.3" r="3.65"/>
<circle cx="552.7" cy="715.9" r="3.65"/>
<circle cx="561.7" cy="720.1" r="3.65"/>
<circle cx="561.1" cy="724.3" r="3.65"/>
<circle cx="561.7" cy="724.7" r="3.65"/>
<circle cx="535.4" cy="727.2" r="3.65"/>
<circle cx="539.6" cy="731.4" r="3.65"/>
<circle cx="540.2" cy="731.8" r="3.65"/>
<circle cx="545" cy="729.6" r="3.65"/>
<circle cx="540.2" cy="736.2" r="3.65"/>
<circle cx="547.4" cy="739.8" r="3.65"/>
<circle cx="559.3" cy="740.4" r="3.65"/>
<circle cx="527.7" cy="745.1" r="3.65"/>
<circle cx="528.3" cy="749.3" r="3.65"/>
<circle cx="528.9" cy="749.7" r="3.65"/>
<circle cx="534.2" cy="751.1" r="3.65"/>
<circle cx="534.8" cy="751.5" r="3.65"/>
<circle cx="538.4" cy="749.9" r="3.65"/>
<circle cx="552.1" cy="746.3" r="3.65"/>
<circle cx="552.7" cy="746.7" r="3.65"/>
<circle cx="556.9" cy="750.5" r="3.65"/>
<circle cx="547.4" cy="752.3" r="3.65"/>
<circle cx="525.9" cy="760" r="3.65"/>
<circle cx="531.3" cy="762.4" r="3.65"/>
<circle cx="531.9" cy="762.8" r="3.65"/>
<circle cx="532.4" cy="765.4" r="3.65"/>
<circle cx="548" cy="762.4" r="3.65"/>
<circle cx="548.6" cy="762.8" r="3.65"/>
<circle cx="560.5" cy="760.6" r="3.65"/>
<circle cx="626.7" cy="663.6" r="3.65"/>
<circle cx="623.4" cy="669.3" r="3.65"/>
<circle cx="646.5" cy="660.8" r="3.65"/>
<circle cx="650.3" cy="662.7" r="3.65"/>
<circle cx="650.9" cy="663.1" r="3.65"/>
<circle cx="652.6" cy="664.6" r="3.65"/>
<circle cx="657.8" cy="668.8" r="3.65"/>
<circle cx="658.4" cy="669.2" r="3.65"/>
<circle cx="628.6" cy="677.3" r="3.65"/>
<circle cx="634.2" cy="675.4" r="3.65"/>
<circle cx="634.8" cy="675.8" r="3.65"/>
<circle cx="641.8" cy="675.9" r="3.65"/>
<circle cx="655" cy="678.7" r="3.65"/>
<circle cx="655.9" cy="683.4" r="3.65"/>
<circle cx="626.7" cy="683.4" r="3.65"/>
<circle cx="633.7" cy="683.9" r="3.65"/>
<circle cx="646" cy="682.5" r="3.65"/>
<circle cx="646.6" cy="682.9" r="3.65"/>
<circle cx="647.4" cy="686.3" r="3.65"/>
<circle cx="648" cy="686.7" r="3.65"/>
<circle cx="622.9" cy="690.5" r="3.65"/>
<circle cx="639.4" cy="693.8" r="3.65"/>
<circle cx="625.7" cy="700.4" r="3.65"/>
<circle cx="632.8" cy="699.5" r="3.65"/>
<circle cx="633.4" cy="699.9" r="3.65"/>
<circle cx="641.8" cy="703.3" r="3.65"/>
<circle cx="622.4" cy="707.5" r="3.65"/>
<circle cx="653.1" cy="706.1" r="3.65"/>
<circle cx="656.4" cy="708" r="3.65"/>
<circle cx="653.1" cy="715.1" r="3.65"/>
<circle cx="653.6" cy="719.8" r="3.65"/>
<circle cx="654.2" cy="720.2" r="3.65"/>
<circle cx="643.7" cy="723.1" r="3.65"/>
</g>
<path d="M152.68,651.2H171.88M162.28,651.2V675.6M152.68,675.6H171.88" fill="none" stroke="#3B4992" stroke-width="2.9"/>
<text x="162.28" y="639.8" class="sl" text-anchor="middle">a</text>
<path d="M248.21,739.4H267.41M257.81,739.4V766.4M248.21,766.4H267.41" fill="none" stroke="#E8141C" stroke-width="2.9"/>
<text x="257.81" y="728" class="sl" text-anchor="middle">e</text>
<path d="M343.74,689.6H362.94M353.34,689.6V726.3M343.74,726.3H362.94" fill="none" stroke="#008B45" stroke-width="2.9"/>
<text x="353.34" y="678.2" class="sl" text-anchor="middle">c</text>
<path d="M439.27,695.1H458.47M448.87,695.1V736.5M439.27,736.5H458.47" fill="none" stroke="#631879" stroke-width="2.9"/>
<text x="448.87" y="683.7" class="sl" text-anchor="middle">c</text>
<path d="M534.8,715.4H554M544.4,715.4V755.7M534.8,755.7H554" fill="none" stroke="#008280" stroke-width="2.9"/>
<text x="544.4" y="704" class="sl" text-anchor="middle">d</text>
<path d="M630.33,671.3H649.53M639.93,671.3V706.5M630.33,706.5H649.53" fill="none" stroke="#B81C24" stroke-width="2.9"/>
<text x="639.93" y="659.9" class="sl" text-anchor="middle">b</text>
<g transform="translate(720.6,515.2)">
<text transform="translate(1.6,22.8)" class="lab">D</text>
<rect x="105.5" y="6.16" width="591.14" height="413.79" fill="none" stroke="#333" stroke-width="1.4"/>
<line x1="94.3" x2="105.5" y1="401.73" y2="401.73" stroke="#000" stroke-width="3"/>
<text x="76.41" y="410.63" class="tk">0</text>
<line x1="94.3" x2="105.5" y1="296.87" y2="296.87" stroke="#000" stroke-width="3"/>
<text x="63.62" y="305.77" class="tk">00</text><path d="M59.39,305.77H57.37V292.89Q56.64,293.58 55.45,294.28Q54.26,294.98 53.32,295.33V293.37Q55.01,292.57 56.28,291.44Q57.55,290.31 58.08,289.24H59.39Z"/>
<line x1="94.3" x2="105.5" y1="192.01" y2="192.01" stroke="#000" stroke-width="3"/>
<text x="50.83" y="200.91" class="tk">200</text>
<line x1="94.3" x2="105.5" y1="87.15" y2="87.15" stroke="#000" stroke-width="3"/>
<text x="50.83" y="96.05" class="tk">300</text>
<line x1="162.28" x2="162.28" y1="419.95" y2="430.6" stroke="#000" stroke-width="3"/>
<text x="148.21" y="452.8" class="tk">A</text><path d="M172.12,452.8H170.1V439.92Q169.37,440.61 168.18,441.31Q166.99,442.01 166.05,442.36V440.4Q167.74,439.6 169.01,438.47Q170.28,437.34 170.81,436.27H172.12Z"/>
<line x1="257.81" x2="257.81" y1="419.95" y2="430.6" stroke="#000" stroke-width="3"/>
<text x="243.74" y="452.8" class="tk">A2</text>
<line x1="353.34" x2="353.34" y1="419.95" y2="430.6" stroke="#000" stroke-width="3"/>
<text x="339.27" y="452.8" class="tk">A3</text>
<line x1="448.87" x2="448.87" y1="419.95" y2="430.6" stroke="#000" stroke-width="3"/>
<text x="434.8" y="452.8" class="tk">A4</text>
<line x1="544.4" x2="544.4" y1="419.95" y2="430.6" stroke="#000" stroke-width="3"/>
<text x="530.33" y="452.8" class="tk">A5</text>
<line x1="639.93" x2="639.93" y1="419.95" y2="430.6" stroke="#000" stroke-width="3"/>
<text x="625.86" y="452.8" class="tk">A6</text>
<text x="401" y="485.7" class="ti" text-anchor="middle">Variety</text>
<text transform="translate(30,323) rotate(-90)" class="ti">Plant height</text>
<text transform="translate(30,153.6) rotate(-90)" class="ti">cm</text>
<path d="M1,149.3 A21.2,21.2 0 0 0 32.7,149.3" fill="none" stroke="#000" stroke-width="1.7"/>
<path d="M1,112.6 A21.6,21.6 0 0 1 32.7,112.6" fill="none" stroke="#000" stroke-width="1.7"/>
</g>
<rect x="859.08" y="652.1" width="47.6" height="264.83" fill="none" stroke="#3B4992" stroke-width="2.9"/>
<rect x="954.61" y="749.6" width="47.6" height="167.33" fill="none" stroke="#E8141C" stroke-width="2.9"/>
<rect x="1050.14" y="720.3" width="47.6" height="196.63" fill="none" stroke="#008B45" stroke-width="2.9"/>
<rect x="1145.67" y="688.5" width="47.6" height="228.43" fill="none" stroke="#631879" stroke-width="2.9"/>
<rect x="1241.2" y="736.6" width="47.6" height="180.33" fill="none" stroke="#008280" stroke-width="2.9"/>
<rect x="1336.73" y="707" width="47.6" height="209.93" fill="none" stroke="#B81C24" stroke-width="2.9"/>
<g fill="#000" fill-opacity="0.5">
<circle cx="863.7" cy="646.2" r="3.65"/>
<circle cx="864.3" cy="646.6" r="3.65"/>
<circle cx="866.8" cy="649" r="3.65"/>
<circle cx="867.4" cy="649.4" r="3.65"/>
<circle cx="865.4" cy="651.8" r="3.65"/>
<circle cx="866" cy="652.2" r="3.65"/>
<circle cx="871.7" cy="646.2" r="3.65"/>
<circle cx="871" cy="655.2" r="3.65"/>
<circle cx="875.8" cy="651.8" r="3.65"/>
<circle cx="876.4" cy="652.2" r="3.65"/>
<circle cx="882.1" cy="644.8" r="3.65"/>
<circle cx="884.2" cy="645.5" r="3.65"/>
<circle cx="892.5" cy="643.4" r="3.65"/>
<circle cx="891.1" cy="649" r="3.65"/>
<circle cx="891.7" cy="649.4" r="3.65"/>
<circle cx="893.9" cy="651.8" r="3.65"/>
<circle cx="894.5" cy="652.2" r="3.65"/>
<circle cx="896.7" cy="655.2" r="3.65"/>
<circle cx="897.3" cy="655.6" r="3.65"/>
<circle cx="900.9" cy="660.1" r="3.65"/>
<circle cx="892.5" cy="662.9" r="3.65"/>
<circle cx="877.9" cy="661.5" r="3.65"/>
<circle cx="879.3" cy="658" r="3.65"/>
<circle cx="887" cy="656.6" r="3.65"/>
<circle cx="888.4" cy="651.8" r="3.65"/>
<circle cx="889" cy="652.2" r="3.65"/>
<circle cx="877.9" cy="649" r="3.65"/>
<circle cx="868.9" cy="652.4" r="3.65"/>
<circle cx="959.7" cy="744.2" r="3.65"/>
<circle cx="959.7" cy="748" r="3.65"/>
<circle cx="960.3" cy="748.4" r="3.65"/>
<circle cx="959.7" cy="755" r="3.65"/>
<circle cx="968.4" cy="745.2" r="3.65"/>
<circle cx="969" cy="745.6" r="3.65"/>
<circle cx="967.7" cy="750.1" r="3.65"/>
<circle cx="968.3" cy="750.5" r="3.65"/>
<circle cx="968.4" cy="756.4" r="3.65"/>
<circle cx="975.3" cy="745.2" r="3.65"/>
<circle cx="980.2" cy="742.4" r="3.65"/>
<circle cx="985.8" cy="741.1" r="3.65"/>
<circle cx="986.4" cy="743.8" r="3.65"/>
<circle cx="987" cy="744.2" r="3.65"/>
<circle cx="979.5" cy="756.4" r="3.65"/>
<circle cx="985.8" cy="752.9" r="3.65"/>
<circle cx="992.7" cy="748.7" r="3.65"/>
<circle cx="993.3" cy="749.1" r="3.65"/>
<circle cx="996.9" cy="748.7" r="3.65"/>
<circle cx="997.5" cy="749.1" r="3.65"/>
<circle cx="994.1" cy="752.9" r="3.65"/>
<circle cx="994.7" cy="753.3" r="3.65"/>
<circle cx="973.9" cy="752.9" r="3.65"/>
<circle cx="968.5" cy="749" r="3.65"/>
<circle cx="969.1" cy="749.4" r="3.65"/>
<circle cx="973" cy="749.5" r="3.65"/>
<circle cx="973.6" cy="749.9" r="3.65"/>
<circle cx="978.5" cy="748.5" r="3.65"/>
<circle cx="979.1" cy="748.9" r="3.65"/>
<circle cx="984" cy="749" r="3.65"/>
<circle cx="984.6" cy="749.4" r="3.65"/>
<circle cx="988.5" cy="749.5" r="3.65"/>
<circle cx="989.1" cy="749.9" r="3.65"/>
<circle cx="1058.5" cy="710.4" r="3.65"/>
<circle cx="1065.4" cy="711.1" r="3.65"/>
<circle cx="1071.7" cy="712.1" r="3.65"/>
<circle cx="1057.4" cy="715.2" r="3.65"/>
<circle cx="1080.8" cy="713.1" r="3.65"/>
<circle cx="1081.4" cy="713.5" r="3.65"/>
<circle cx="1091.9" cy="709.7" r="3.65"/>
<circle cx="1091.9" cy="712.4" r="3.65"/>
<circle cx="1092.5" cy="712.8" r="3.65"/>
<circle cx="1089.8" cy="717.3" r="3.65"/>
<circle cx="1090.4" cy="717.7" r="3.65"/>
<circle cx="1087" cy="720.1" r="3.65"/>
<circle cx="1087.6" cy="720.5" r="3.65"/>
<circle cx="1055" cy="721.5" r="3.65"/>
<circle cx="1055.6" cy="721.9" r="3.65"/>
<circle cx="1056.4" cy="725" r="3.65"/>
<circle cx="1057" cy="725.4" r="3.65"/>
<circle cx="1062" cy="726.4" r="3.65"/>
<circle cx="1062.6" cy="726.8" r="3.65"/>
<circle cx="1066.8" cy="720.1" r="3.65"/>
<circle cx="1067.4" cy="720.5" r="3.65"/>
<circle cx="1074.5" cy="727.8" r="3.65"/>
<circle cx="1080.8" cy="728.5" r="3.65"/>
<circle cx="1081.4" cy="728.9" r="3.65"/>
<circle cx="1089.1" cy="723.6" r="3.65"/>
<circle cx="1077.3" cy="720.1" r="3.65"/>
<circle cx="1077.9" cy="720.5" r="3.65"/>
<circle cx="1082.1" cy="721.5" r="3.65"/>
<circle cx="1082.7" cy="721.9" r="3.65"/>
<circle cx="1066" cy="724" r="3.65"/>
<circle cx="1066.6" cy="724.4" r="3.65"/>
<circle cx="1070.5" cy="722" r="3.65"/>
<circle cx="1076" cy="726" r="3.65"/>
<circle cx="1084" cy="724.5" r="3.65"/>
<circle cx="1084.6" cy="724.9" r="3.65"/>
<circle cx="1060" cy="722" r="3.65"/>
<circle cx="1150" cy="680.4" r="3.65"/>
<circle cx="1153.4" cy="677.6" r="3.65"/>
<circle cx="1154" cy="678" r="3.65"/>
<circle cx="1156.2" cy="683.1" r="3.65"/>
<circle cx="1159.4" cy="687.3" r="3.65"/>
<circle cx="1160" cy="687.7" r="3.65"/>
<circle cx="1156.6" cy="692.9" r="3.65"/>
<circle cx="1157.2" cy="693.3" r="3.65"/>
<circle cx="1164.9" cy="683.1" r="3.65"/>
<circle cx="1162.8" cy="688.7" r="3.65"/>
<circle cx="1163.4" cy="689.1" r="3.65"/>
<circle cx="1169.8" cy="684.5" r="3.65"/>
<circle cx="1167" cy="699.2" r="3.65"/>
<circle cx="1172.6" cy="697.8" r="3.65"/>
<circle cx="1176.8" cy="695.7" r="3.65"/>
<circle cx="1177.4" cy="696.1" r="3.65"/>
<circle cx="1181.6" cy="699.2" r="3.65"/>
<circle cx="1178.1" cy="679" r="3.65"/>
<circle cx="1178.7" cy="679.4" r="3.65"/>
<circle cx="1183.7" cy="677.6" r="3.65"/>
<circle cx="1184.3" cy="678" r="3.65"/>
<circle cx="1186.5" cy="680.4" r="3.65"/>
<circle cx="1187.1" cy="680.8" r="3.65"/>
<circle cx="1183.7" cy="684.5" r="3.65"/>
<circle cx="1184.3" cy="684.9" r="3.65"/>
<circle cx="1186.5" cy="685.2" r="3.65"/>
<circle cx="1187.1" cy="685.6" r="3.65"/>
<circle cx="1180.2" cy="688.7" r="3.65"/>
<circle cx="1180.8" cy="689.1" r="3.65"/>
<circle cx="1182.3" cy="692.9" r="3.65"/>
<circle cx="1182.9" cy="693.3" r="3.65"/>
<circle cx="1174" cy="690.1" r="3.65"/>
<circle cx="1174.6" cy="690.5" r="3.65"/>
<circle cx="1160.5" cy="690" r="3.65"/>
<circle cx="1161.1" cy="690.4" r="3.65"/>
<circle cx="1165" cy="694" r="3.65"/>
<circle cx="1170" cy="692" r="3.65"/>
<circle cx="1170.6" cy="692.4" r="3.65"/>
<circle cx="1176" cy="686" r="3.65"/>
<circle cx="1180" cy="683" r="3.65"/>
<circle cx="1180.6" cy="683.4" r="3.65"/>
<circle cx="1246.7" cy="732.4" r="3.65"/>
<circle cx="1252.3" cy="729.7" r="3.65"/>
<circle cx="1252.9" cy="730.1" r="3.65"/>
<circle cx="1250.9" cy="734.5" r="3.65"/>
<circle cx="1251.5" cy="734.9" r="3.65"/>
<circle cx="1246.7" cy="738" r="3.65"/>
<circle cx="1247.3" cy="738.4" r="3.65"/>
<circle cx="1253" cy="740.1" r="3.65"/>
<circle cx="1253.6" cy="740.5" r="3.65"/>
<circle cx="1255.1" cy="742.9" r="3.65"/>
<circle cx="1257.8" cy="733.8" r="3.65"/>
<circle cx="1258.4" cy="734.2" r="3.65"/>
<circle cx="1259.9" cy="738.7" r="3.65"/>
<circle cx="1260.5" cy="739.1" r="3.65"/>
<circle cx="1264.8" cy="729" r="3.65"/>
<circle cx="1269" cy="730.4" r="3.65"/>
<circle cx="1269.6" cy="730.8" r="3.65"/>
<circle cx="1266.2" cy="744.3" r="3.65"/>
<circle cx="1260.6" cy="742.2" r="3.65"/>
<circle cx="1269" cy="738.7" r="3.65"/>
<circle cx="1280.1" cy="735.2" r="3.65"/>
<circle cx="1280.7" cy="735.6" r="3.65"/>
<circle cx="1278.7" cy="740.1" r="3.65"/>
<circle cx="1279.3" cy="740.5" r="3.65"/>
<circle cx="1275.9" cy="742.9" r="3.65"/>
<circle cx="1281.5" cy="738" r="3.65"/>
<circle cx="1282.1" cy="738.4" r="3.65"/>
<circle cx="1250" cy="731" r="3.65"/>
<circle cx="1250.6" cy="731.4" r="3.65"/>
<circle cx="1254" cy="736" r="3.65"/>
<circle cx="1254.6" cy="736.4" r="3.65"/>
<circle cx="1257" cy="731.5" r="3.65"/>
<circle cx="1249" cy="737" r="3.65"/>
<circle cx="1262" cy="736" r="3.65"/>
<circle cx="1343.4" cy="697.9" r="3.65"/>
<circle cx="1349.4" cy="696.9" r="3.65"/>
<circle cx="1349" cy="700" r="3.65"/>
<circle cx="1349.6" cy="700.4" r="3.65"/>
<circle cx="1342.4" cy="704.5" r="3.65"/>
<circle cx="1345.2" cy="708.7" r="3.65"/>
<circle cx="1345.8" cy="709.1" r="3.65"/>
<circle cx="1350.1" cy="715" r="3.65"/>
<circle cx="1357.7" cy="699" r="3.65"/>
<circle cx="1361.9" cy="699" r="3.65"/>
<circle cx="1362.5" cy="699.4" r="3.65"/>
<circle cx="1367.4" cy="699.7" r="3.65"/>
<circle cx="1368" cy="700.1" r="3.65"/>
<circle cx="1373" cy="701.1" r="3.65"/>
<circle cx="1377.9" cy="703.8" r="3.65"/>
<circle cx="1355.6" cy="704.5" r="3.65"/>
<circle cx="1357.7" cy="714.3" r="3.65"/>
<circle cx="1357.7" cy="718.5" r="3.65"/>
<circle cx="1373.7" cy="715.7" r="3.65"/>
<circle cx="1377.9" cy="712.9" r="3.65"/>
<circle cx="1378.5" cy="713.3" r="3.65"/>
<circle cx="1379.3" cy="716.4" r="3.65"/>
<circle cx="1375.1" cy="710.1" r="3.65"/>
<circle cx="1375.7" cy="710.5" r="3.65"/>
<circle cx="1351.4" cy="708.7" r="3.65"/>
<circle cx="1364" cy="708" r="3.65"/>
<circle cx="1346" cy="705" r="3.65"/>
<circle cx="1346.6" cy="705.4" r="3.65"/>
<circle cx="1370" cy="704" r="3.65"/>
<circle cx="1366" cy="706" r="3.65"/>
<circle cx="1366.6" cy="706.4" r="3.65"/>
<circle cx="1353" cy="703" r="3.65"/>
</g>
<path d="M873.28,647.4H892.48M882.88,647.4V656.8M873.28,656.8H892.48" fill="none" stroke="#3B4992" stroke-width="2.9"/>
<text x="882.88" y="636" class="sl" text-anchor="middle">a</text>
<path d="M968.81,746.8H988.01M978.41,746.8V753.2M968.81,753.2H988.01" fill="none" stroke="#E8141C" stroke-width="2.9"/>
<text x="978.41" y="735.4" class="sl" text-anchor="middle">e</text>
<path d="M1064.34,715.8H1083.54M1073.94,715.8V725.2M1064.34,725.2H1083.54" fill="none" stroke="#008B45" stroke-width="2.9"/>
<text x="1073.94" y="704.4" class="sl" text-anchor="middle">c</text>
<path d="M1159.87,682.8H1179.07M1169.47,682.8V694.1M1159.87,694.1H1179.07" fill="none" stroke="#631879" stroke-width="2.9"/>
<text x="1169.47" y="671.4" class="sl" text-anchor="middle">c</text>
<path d="M1255.4,733.3H1274.6M1265,733.3V740.1M1255.4,740.1H1274.6" fill="none" stroke="#008280" stroke-width="2.9"/>
<text x="1265" y="721.9" class="sl" text-anchor="middle">d</text>
<path d="M1350.93,702.3H1370.13M1360.53,702.3V712.4M1350.93,712.4H1370.13" fill="none" stroke="#B81C24" stroke-width="2.9"/>
<text x="1360.53" y="690.9" class="sl" text-anchor="middle">b</text>
<rect x="490" y="28.6" width="16.4" height="15.7" fill="none" stroke="#3B4992" stroke-width="3"/>
<line x1="490" x2="506.4" y1="36.45" y2="36.45" stroke="#3B4992" stroke-width="2.8"/>
<text x="522.3" y="42.9" class="lg">A</text><path d="M540.8,42.9H539.24V32.93Q538.67,33.47 537.75,34.01Q536.83,34.55 536.1,34.82V33.3Q537.41,32.69 538.4,31.81Q539.38,30.93 539.79,30.11H540.8Z"/>
<rect x="490" y="49.2" width="16.4" height="15.7" fill="none" stroke="#E8141C" stroke-width="3"/>
<line x1="490" x2="506.4" y1="57.05" y2="57.05" stroke="#E8141C" stroke-width="2.8"/>
<text x="522.3" y="63.5" class="lg">A2</text>
<rect x="560" y="28.6" width="16.4" height="15.7" fill="none" stroke="#008B45" stroke-width="3"/>
<line x1="560" x2="576.4" y1="36.45" y2="36.45" stroke="#008B45" stroke-width="2.8"/>
<text x="592.3" y="42.9" class="lg">A3</text>
<rect x="560" y="49.2" width="16.4" height="15.7" fill="none" stroke="#631879" stroke-width="3"/>
<line x1="560" x2="576.4" y1="57.05" y2="57.05" stroke="#631879" stroke-width="2.8"/>
<text x="592.3" y="63.5" class="lg">A4</text>
<rect x="630" y="28.6" width="16.4" height="15.7" fill="none" stroke="#008280" stroke-width="3"/>
<line x1="630" x2="646.4" y1="36.45" y2="36.45" stroke="#008280" stroke-width="2.8"/>
<text x="662.3" y="42.9" class="lg">A5</text>
<rect x="630" y="49.2" width="16.4" height="15.7" fill="none" stroke="#B81C24" stroke-width="3"/>
<line x1="630" x2="646.4" y1="57.05" y2="57.05" stroke="#B81C24" stroke-width="2.8"/>
<text x="662.3" y="63.5" class="lg">A6</text>
</svg></body></html>
